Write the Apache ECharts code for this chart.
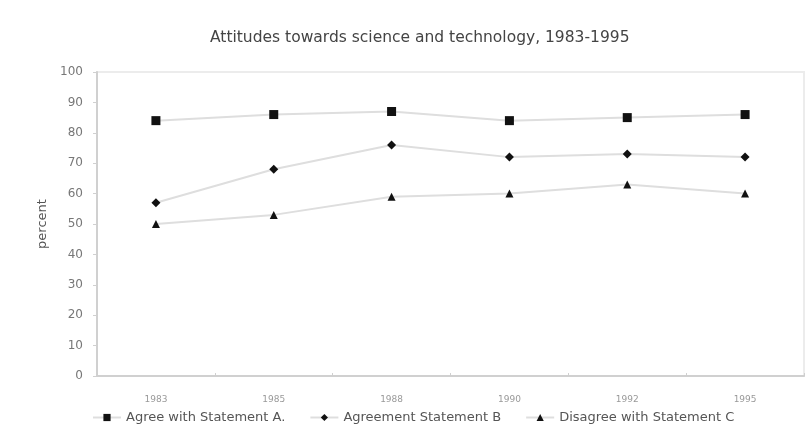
<!DOCTYPE html>
<html>
<head>
<meta charset="utf-8">
<script src="https://cdn.jsdelivr.net/npm/echarts@6/dist/echarts.min.js"></script>
<style>
  html, body { margin: 0; padding: 0; background: #fff; }
  #chart { width: 807px; height: 428px; }
</style>
</head>
<body>
<div id="chart"></div>
<script>
// Survey years
const years = ['1983', '1985', '1988', '1990', '1992', '1995'];

// Percent of respondents per statement
const agreeA = [84, 86, 87, 84, 85, 86];
const agreementB = [57, 68, 76, 72, 73, 72];
const disagreeC = [50, 53, 59, 60, 63, 60];

const seriesNames = ['Agree with Statement A.', 'Agreement Statement B', 'Disagree with Statement C'];
const yTicks = [0, 10, 20, 30, 40, 50, 60, 70, 80, 90, 100];

const chart = echarts.init(document.getElementById('chart'), null, { renderer: 'canvas' });

function lineSeries(name, data, symbol, size) {
  return {
    name: name,
    type: 'line',
    data: data,
    symbol: symbol,
    symbolSize: size,
    showAllSymbol: true,
    lineStyle: { color: '#dedede', width: 2 },
    itemStyle: { color: '#111' },
    emphasis: { disabled: true },
    z: 3
  };
}

chart.setOption({
  animation: false,
  backgroundColor: '#fff',
  textStyle: { fontFamily: 'DejaVu Sans, sans-serif' },
  title: {
    text: 'Attitudes towards science and technology, 1983-1995',
    left: 205,
    top: 25,
    textStyle: { fontSize: 15.5, fontWeight: 'normal', color: '#444', fontFamily: 'DejaVu Sans, sans-serif' }
  },
  legend: {
    left: 87,
    top: 406,
    itemGap: 24,
    itemWidth: 28,
    itemHeight: 9,
    textStyle: { fontSize: 13, color: '#555' },
    data: seriesNames
  },
  grid: {
    left: 97,
    right: 3,
    top: 72,
    bottom: 52,
    show: true,
    borderColor: '#ececec',
    borderWidth: 2
  },
  xAxis: {
    type: 'category',
    data: years,
    boundaryGap: true,
    axisLine: { lineStyle: { color: '#d0d0d0', width: 2 } },
    axisTick: { show: true, inside: true, length: 3, lineStyle: { color: '#cfcfcf' } },
    axisLabel: { fontSize: 9, color: '#999', margin: 19 }
  },
  yAxis: {
    type: 'value',
    min: yTicks[0],
    max: yTicks[yTicks.length - 1],
    interval: 10,
    name: 'percent',
    nameLocation: 'middle',
    nameGap: 48,
    nameRotate: 90,
    nameTextStyle: { fontSize: 13, color: '#555' },
    axisLine: { show: true, lineStyle: { color: '#d0d0d0', width: 2 } },
    axisTick: { show: true, length: 4, lineStyle: { color: '#d0d0d0' } },
    axisLabel: { fontSize: 12, color: '#777', margin: 14 },
    splitLine: { show: false }
  },
  series: [
    lineSeries(seriesNames[0], agreeA, 'rect', 9),
    lineSeries(seriesNames[1], agreementB, 'diamond', 9),
    lineSeries(seriesNames[2], disagreeC, 'triangle', 8)
  ]
});
</script>
</body>
</html>
